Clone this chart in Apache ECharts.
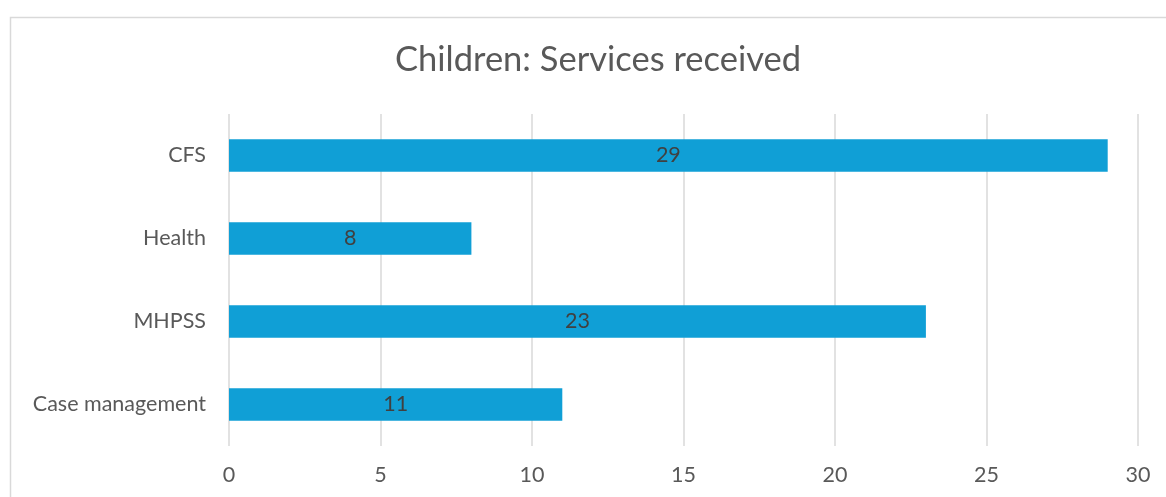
<!DOCTYPE html>
<html>
<head>
<meta charset="utf-8">
<script src="https://cdn.jsdelivr.net/npm/echarts@6/dist/echarts.min.js"></script>
<style>
  html, body { margin: 0; padding: 0; background: #ffffff; }
  #chart { width: 1166px; height: 497px; }
</style>
</head>
<body>
<div id="chart"></div>
<script>
// Services received by children, by service type
const categories = ['CFS', 'Health', 'MHPSS', 'Case management'];
const counts = [29, 8, 23, 11];
const xTicks = [0, 5, 10, 15, 20, 25, 30];

const FONT = 'Lato, "Liberation Sans", sans-serif';

const chart = echarts.init(document.getElementById('chart'), null, { renderer: 'canvas' });

chart.setOption({
  backgroundColor: '#ffffff',
  animation: false,
  graphic: [{
    type: 'rect',
    left: 8,
    top: 15,
    shape: { width: 1200, height: 520 },
    style: { fill: 'none', stroke: '#d9d9d9', lineWidth: 1.5 },
    silent: true
  }],
  title: {
    text: 'Children: Services received',
    left: 390,
    top: 37,
    textStyle: { fontFamily: FONT, fontSize: 34.5, fontWeight: 'normal', color: '#595959' }
  },
  grid: { left: 229, right: 28, top: 114, bottom: 51, containLabel: false },
  xAxis: {
    type: 'value',
    min: xTicks[0],
    max: xTicks[xTicks.length - 1],
    interval: xTicks[1] - xTicks[0],
    axisLine: { show: false },
    axisTick: { show: false },
    axisLabel: { fontFamily: FONT, fontSize: 21.5, color: '#595959', margin: 18 },
    splitLine: { show: true, lineStyle: { color: '#d9d9d9', width: 1.5 } }
  },
  yAxis: {
    type: 'category',
    data: categories,
    inverse: true,
    axisLine: { show: false },
    axisTick: { show: false },
    axisLabel: { fontFamily: FONT, fontSize: 21.5, color: '#595959', margin: 23 }
  },
  series: [{
    type: 'bar',
    data: counts,
    barCategoryGap: '61%',
    itemStyle: { color: '#109fd6' },
    label: {
      show: true,
      position: 'inside',
      fontFamily: FONT,
      fontSize: 21.5,
      color: '#404040'
    }
  }]
});
</script>
</body>
</html>
